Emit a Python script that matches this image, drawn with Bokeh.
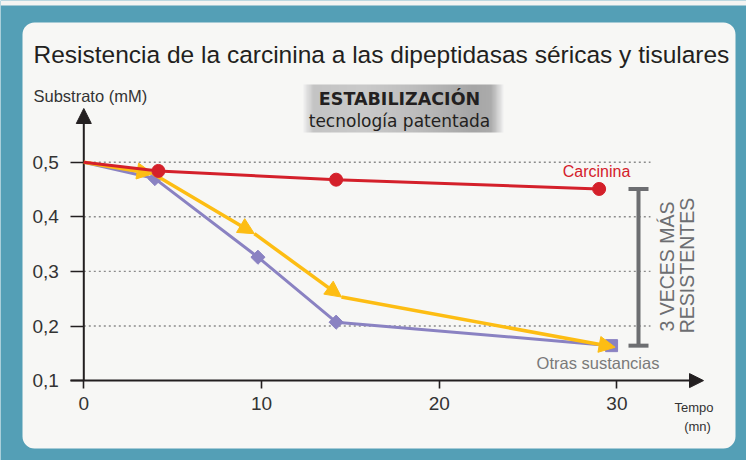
import numpy as np
from bokeh.plotting import figure
from bokeh.models import (LinearAxis, FixedTicker, Arrow, NormalHead, Label,
                          BoxAnnotation, ColumnDataSource, Whisker, TeeHead)
from bokeh.embed import file_html
from bokeh.resources import INLINE

# ---------------- data ----------------
tiempo_carcinina = [0, 4.2, 14.2, 29.0]
sustrato_carcinina = [0.500, 0.484, 0.468, 0.451]

tiempo_otras = [0, 4.0, 9.8, 14.2, 29.7]
sustrato_otras = [0.500, 0.470, 0.326, 0.207, 0.164]

tiempo_flechas = [0, 3.9, 9.6, 14.5, 29.9]
sustrato_flechas = [0.500, 0.479, 0.369, 0.253, 0.161]

x_ticks = [0, 10, 20, 30]
x_tick_labels = ["0", "10", "20", "30"]
y_ticks = [0.1, 0.2, 0.3, 0.4, 0.5]
y_tick_labels = ["0,1", "0,2", "0,3", "0,4", "0,5"]
grid_levels = [0.2, 0.3, 0.4, 0.5]

# ---------------- layout helpers ----------------
W, H = 746, 460
X0, XS = 83.3, 17.77    # pixel of t=0, pixels per minute
Y0, YS = 161.7, 546.0   # pixel of 0.5, pixels per unit


def dx(px):
    return (px - X0) / XS


def dy(py):
    return 0.5 - (py - Y0) / YS


TEAL = "#549fb6"
PANEL = "#f7f7f5"
RED = "#d4202a"
YELLOW = "#fdbd13"
PURPLE = "#8a82c2"
GRAY = "#6d6e71"
INK = "#231f20"
FONT = "Liberation Sans"

p = figure(width=W, height=H, x_range=(dx(0), dx(W)), y_range=(dy(H), dy(0)),
           x_axis_type=None, y_axis_type=None, toolbar_location=None,
           output_backend="svg", min_border=0, outline_line_color=None,
           background_fill_color=TEAL, border_fill_color=TEAL)

# background pieces
p.add_layout(BoxAnnotation(left=dx(0), right=dx(W), top=dy(0), bottom=dy(5),
                           fill_color="#f4f4f2", fill_alpha=1, line_color=None, level="image"))
p.add_layout(BoxAnnotation(left=dx(22), right=dx(735), top=dy(22), bottom=dy(448),
                           fill_color=PANEL, fill_alpha=1, line_color=None,
                           border_radius=12, level="image"))

# gradient box behind "ESTABILIZACIÓN"
N = 240
pos = np.linspace(0, 1, N)
g = np.interp(pos, [0, 0.05, 0.3, 0.55, 0.85, 0.94, 1.0],
              [238, 196, 202, 190, 166, 172, 240]).astype(np.uint8)
img = np.empty((1, N), dtype=np.uint32)
view = img.view(dtype=np.uint8).reshape((1, N, 4))
view[0, :, 0] = g
view[0, :, 1] = g
view[0, :, 2] = g
view[0, :, 3] = 255
p.image_rgba(image=[img], x=dx(303), y=dy(132), dw=dx(503) - dx(303),
             dh=dy(84) - dy(132), level="underlay")

# dotted grid lines
p.segment(x0=[0] * len(grid_levels), y0=grid_levels,
          x1=[dx(650)] * len(grid_levels), y1=grid_levels,
          line_color="#8c8c8c", line_width=1.4, line_dash="2 3", level="underlay")

# axes
yaxis = LinearAxis(fixed_location=0, ticker=FixedTicker(ticks=y_ticks),
                   major_label_overrides=dict(zip(y_ticks, y_tick_labels)),
                   axis_line_color=None, major_tick_out=13, major_tick_in=0,
                   minor_tick_line_color=None, major_tick_line_color=INK,
                   major_tick_line_width=1.6, major_label_standoff=12,
                   major_label_text_font=FONT, major_label_text_font_size="19px",
                   major_label_text_color="#333333")
p.add_layout(yaxis, "left")

xaxis = LinearAxis(fixed_location=0.1, ticker=FixedTicker(ticks=x_ticks),
                   major_label_overrides=dict(zip(x_ticks, x_tick_labels)),
                   axis_line_color=None, major_tick_out=8, major_tick_in=0,
                   minor_tick_line_color=None, major_tick_line_color=INK,
                   major_tick_line_width=1.6, major_label_standoff=8,
                   major_label_text_font=FONT, major_label_text_font_size="19px",
                   major_label_text_color="#333333")
p.add_layout(xaxis, "below")

# axis arrows
p.add_layout(Arrow(x_start=dx(70), y_start=0.1, x_end=dx(703), y_end=0.1,
                   line_color=INK, line_width=2,
                   end=NormalHead(size=14, fill_color=INK, line_color=INK)))
p.add_layout(Arrow(x_start=0, y_start=0.1, x_end=0, y_end=dy(108),
                   line_color=INK, line_width=2,
                   end=NormalHead(size=15, fill_color=INK, line_color=INK)))

# other substances (purple)
p.line(tiempo_otras, sustrato_otras, line_color=PURPLE, line_width=3)
p.scatter(tiempo_otras[1:4], sustrato_otras[1:4], marker="square", angle=np.pi / 4,
          size=10, color=PURPLE)
p.scatter(tiempo_otras[4:], sustrato_otras[4:], marker="square", size=12, color=PURPLE)

# yellow arrows
src = ColumnDataSource(dict(x0=tiempo_flechas[:-1], y0=sustrato_flechas[:-1],
                            x1=tiempo_flechas[1:], y1=sustrato_flechas[1:]))
p.add_layout(Arrow(source=src, x_start="x0", y_start="y0", x_end="x1", y_end="y1",
                   line_color=YELLOW, line_width=3.5,
                   end=NormalHead(size=16, fill_color=YELLOW, line_color=YELLOW)))

# carcinina (red)
p.line(tiempo_carcinina, sustrato_carcinina, line_color=RED, line_width=3, level="overlay")
p.scatter(tiempo_carcinina[1:], sustrato_carcinina[1:], size=13, color=RED, level="overlay")

# bracket
wsrc = ColumnDataSource(dict(base=[dx(638)], lower=[sustrato_otras[-1]],
                             upper=[sustrato_carcinina[-1]]))
p.add_layout(Whisker(source=wsrc, base="base", lower="lower", upper="upper",
                     dimension="height", line_color=GRAY, line_width=4,
                     upper_head=TeeHead(size=20, line_color=GRAY, line_width=4),
                     lower_head=TeeHead(size=20, line_color=GRAY, line_width=4)))


def lab(px, py, text, size, color=INK, font=FONT, align="left", style="normal", angle=0):
    p.add_layout(Label(x=dx(px), y=dy(py), text=text, text_font=font,
                       text_font_size=size, text_color=color, text_align=align,
                       text_baseline="middle", text_font_style=style, angle=angle))


lab(33, 54, "Resistencia de la carcinina a las dipeptidasas séricas y tisulares", "24.5px")
lab(33, 95, "Substrato (mM)", "16.5px", color="#333333")
lab(399, 98, "ESTABILIZACIÓN", "17.5px", font="DejaVu Sans", align="center", style="bold")
lab(399, 120, "tecnología patentada", "17px", font="DejaVu Sans", align="center")
lab(596, 171, "Carcinina", "16px", color=RED, align="center")
lab(597.5, 362, "Otras sustancias", "16.5px", color="#7a7a7a", align="center")
lab(666.5, 266, "3 VECES MÁS", "19.5px", color=GRAY, align="center", angle=np.pi / 2)
lab(686, 265, "RESISTENTES", "19.5px", color=GRAY, align="center", angle=np.pi / 2)
lab(693.5, 407, "Tempo", "13px", color="#333333", align="center")
lab(697, 426, "(mn)", "13px", color="#333333", align="center")

open("out.html", "w").write(file_html(p, INLINE))
